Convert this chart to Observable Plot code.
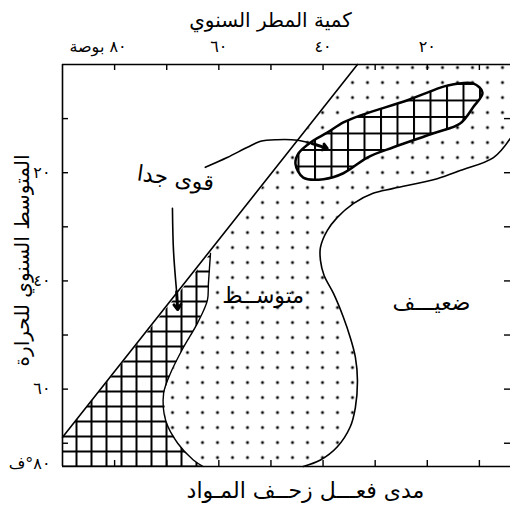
<!DOCTYPE html>
<html><head><meta charset="utf-8">
<script src="https://cdn.jsdelivr.net/npm/d3@7"></script>
<script src="https://cdn.jsdelivr.net/npm/@observablehq/plot@0.6"></script>
<style>body{margin:0;background:#fff}</style>
</head><body><div id="chart"></div>
<script>
// ---- data (rainfall in inches on x, reversed; mean annual temperature °F on y, downward)
const xTicks = [10, 20, 30, 40, 50, 60, 70, 80];
const yTicks = [10, 20, 30, 40, 50, 60, 70];
const xLabelValues = [20, 40, 60];
const xLabelTexts = ["٢٠", "٤٠", "٦٠"];
const xUnitValue = [80];
const xUnitText = ["٨٠ بوصة"];
const yLabelValues = [20, 40, 60];
const yLabelTexts = ["٢٠", "٤٠", "٦٠"];
const yUnitText = ["٨٠°ف"];
const titleTop = "كمية المطر السنوي";
const titleBottom = "مدى فعـــل زحــف المـواد";
const titleLeft = "المتوسط السنوي للحرارة";

const tBottom = 74.3; // temperature at the bottom edge of the drawn frame
const diagonal = [[90, 68.9], [33.4, 0]];
const hatchBoundary = [[61.6,34.9],[62.0,40.5],[62.2,43.6],[64.1,47.8],[66.8,52.3],[69.3,57.1],[70.6,60.8],[70.2,65.8],[67.9,70],[64.9,73.1],[63.0,74.3]];
const outerBoundary = [[4.1,13.7],[7.3,17.2],[13.7,19.6],[18.1,21.1],[26.5,22.9],[30.4,23.8],[34.2,25.7],[37.3,28.3],[39.2,30.7],[40.5,33.8],[40.5,36.2],[39.8,39.0],[38.0,42.3],[36.1,46.7],[34.8,50.4],[33.8,54.1],[33.4,58.4],[33.8,63.4],[34.8,67.0],[37.3,70.7],[40.5,73.1],[43.8,74.3]];
const ellipse = [[45.3,18.3],[44.7,16.4],[42.4,14.4],[39.2,12.6],[36.1,10.7],[32.8,9.4],[23.8,6.6],[20.0,5.2],[16.2,3.9],[11.2,3.5],[9.4,5.2],[11.2,7.9],[13.7,10.9],[18.8,12.7],[26.5,15.3],[31.5,17.2],[36.1,20.1],[39.9,21.2],[43.8,20.9]];
const leaderTop = [[62.6,19.0],[58.4,17.2],[54.5,15.3],[52.0,14.2],[48.8,13.9],[44.9,14.0],[42.1,14.6]];
const leaderTopTip = [[42.1,14.6],[39.2,15.5]];
const leaderDown = [[68.9,26.6],[68.7,34.4],[68.1,42.0]];
const leaderDownTip = [[68.1,42.0],[67.9,45.3]];
const regionNames = ["قوى جدا", "متوســط", "ضعيـــف"];
const regionX = [68.3, 51.5, 19.2];
const regionY = [21.1, 42.7, 44.1];
const frameCorner = [[4.1, 0]]; // top-right corner of the visible frame

// polygons built from the boundaries above
const hatchedPoly = [[90, 68.9], ...hatchBoundary, [90, tBottom]];
const dottedPoly = [[33.4, 0], ...frameCorner, ...outerBoundary, ...hatchBoundary.slice().reverse()];
const regionLabels = regionNames.map((t, i) => ({t, x: regionX[i], y: regionY[i]}));

function defs() {
  const d = d3.create("svg:defs");
  const g = d.append("pattern").attr("id", "grid").attr("patternUnits", "userSpaceOnUse")
    .attr("width", 15).attr("height", 15);
  g.append("path").attr("d", "M0,1H15M1,0V15").attr("stroke", "#000").attr("stroke-width", 2).attr("fill", "none");
  const g2 = d.append("pattern").attr("id", "grid2").attr("patternUnits", "userSpaceOnUse")
    .attr("width", 16.5).attr("height", 16.5);
  g2.append("path").attr("d", "M0,1H16.5M1,0V16.5").attr("stroke", "#000").attr("stroke-width", 2).attr("fill", "none");
  const p = d.append("pattern").attr("id", "dots").attr("patternUnits", "userSpaceOnUse")
    .attr("width", 15).attr("height", 15);
  p.append("circle").attr("cx", 7).attr("cy", 7).attr("r", 1.5).attr("fill", "#000");
  return d.node();
}

const X = d => d[0], Y = d => d[1];
const FH = 402, FW = 448;

const chart = Plot.plot({
  width: 510, height: 506,
  marginTop: 64, marginLeft: 62, marginRight: 0, marginBottom: 40,
  style: {fontFamily: "DejaVu Sans", background: "#fff", color: "#000"},
  x: {domain: [90, 0], range: [62, 531], axis: null},
  y: {domain: [0, tBottom], range: [64, 466], axis: null},
  marks: [
    defs,
    Plot.line(dottedPoly, {x: X, y: Y, fill: "url(#dots)", stroke: "none"}),
    Plot.line(hatchedPoly, {x: X, y: Y, fill: "url(#grid)", stroke: "none"}),
    Plot.line(ellipse, {x: X, y: Y, curve: "catmull-rom-closed", fill: "#fff", stroke: "none"}),
    Plot.line(ellipse, {x: X, y: Y, curve: "catmull-rom-closed", fill: "url(#grid2)", stroke: "#000", strokeWidth: 2.5}),
    Plot.line(outerBoundary, {x: X, y: Y, curve: "catmull-rom", stroke: "#000", strokeWidth: 1.6}),
    Plot.line(hatchBoundary, {x: X, y: Y, curve: "catmull-rom", stroke: "#000", strokeWidth: 1.4}),
    Plot.line(diagonal, {x: X, y: Y, stroke: "#000", strokeWidth: 1.6}),
    // frame (top, left, bottom)
    Plot.ruleY([0, tBottom], {stroke: "#000", strokeWidth: 1.6}),
    Plot.ruleX([90], {stroke: "#000", strokeWidth: 1.6}),
    // inward ticks
    Plot.ruleX(xTicks, {insetBottom: FH - 6, stroke: "#000", strokeWidth: 1.4}),
    Plot.ruleX(xTicks, {insetTop: FH - 6, stroke: "#000", strokeWidth: 1.4}),
    Plot.ruleY(yTicks, {insetRight: FW - 6, stroke: "#000", strokeWidth: 1.4}),
    Plot.ruleY(yTicks, {insetLeft: FW - 6, stroke: "#000", strokeWidth: 1.4}),
    // tick labels
    Plot.text(xLabelTexts, {x: (d, i) => xLabelValues[i], text: d => d, frameAnchor: "top", lineAnchor: "middle", dy: -18, fontSize: 16}),
    Plot.text(xUnitText, {x: (d, i) => xUnitValue[i], text: d => d, frameAnchor: "top", lineAnchor: "middle", dy: -18, dx: 12, textAnchor: "end", fontSize: 16}),
    Plot.text(yLabelTexts, {y: (d, i) => yLabelValues[i], text: d => d, frameAnchor: "left", lineAnchor: "middle", dx: -12, textAnchor: "end", fontSize: 16}),
    Plot.text(yUnitText, {text: d => d, frameAnchor: "bottom-left", lineAnchor: "middle", dx: -12, dy: -3, textAnchor: "end", fontSize: 16}),
    // axis titles
    Plot.text([titleTop], {text: d => d, frameAnchor: "top", lineAnchor: "middle", textAnchor: "middle", dx: -16, dy: -44, fontSize: 20}),
    Plot.text([titleBottom], {text: d => d, frameAnchor: "bottom", lineAnchor: "middle", textAnchor: "middle", dx: 19, dy: 24, fontSize: 22}),
    Plot.text([titleLeft], {text: d => d, frameAnchor: "left", lineAnchor: "middle", textAnchor: "middle", dx: -40, dy: -5, rotate: -90, fontSize: 20}),
    // region labels
    Plot.text(regionLabels.slice(0, 1), {x: "x", y: "y", text: "t", fontSize: 22, rotate: 8}),
    Plot.text(regionLabels.slice(1), {x: "x", y: "y", text: "t", fontSize: 22}),
    // leaders
    Plot.line(leaderTop, {x: X, y: Y, curve: "catmull-rom", stroke: "#000", strokeWidth: 1.6}),
    Plot.arrow([leaderTopTip], {x1: d => d[0][0], y1: d => d[0][1], x2: d => d[1][0], y2: d => d[1][1], headLength: 9, headAngle: 70, strokeWidth: 3}),
    Plot.line(leaderDown, {x: X, y: Y, curve: "catmull-rom", stroke: "#000", strokeWidth: 1.6}),
    Plot.arrow([leaderDownTip], {x1: d => d[0][0], y1: d => d[0][1], x2: d => d[1][0], y2: d => d[1][1], headLength: 9, headAngle: 70, strokeWidth: 3})
  ]
});
document.getElementById("chart").appendChild(chart);
</script>
</body></html>
